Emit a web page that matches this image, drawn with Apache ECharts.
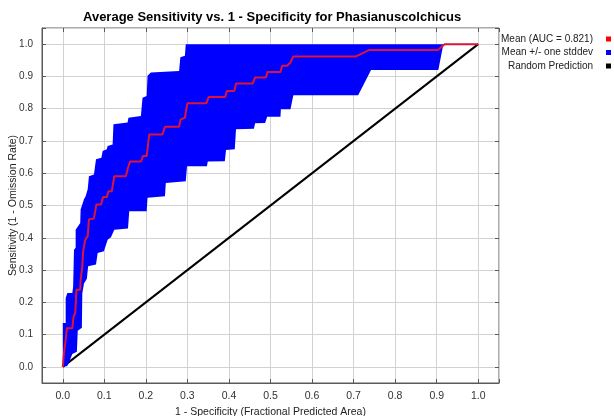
<!DOCTYPE html>
<html><head><meta charset="utf-8">
<script src="https://cdn.jsdelivr.net/npm/echarts@6/dist/echarts.min.js"></script>
<style>html,body{margin:0;padding:0;background:#fff}#c{width:614px;height:416px}</style>
</head><body><div id="c"></div>
<script>
const titleText = 'Average Sensitivity vs. 1 - Specificity for Phasianuscolchicus';
const xAxisName = '1 - Specificity (Fractional Predicted Area)';
const yAxisName = 'Sensitivity (1 - Omission Rate)';
const seriesNames = ['Mean (AUC = 0.821)', 'Mean +/- one stddev', 'Random Prediction'];

const meanCurve = [
  [0,0],[0.003,0.043],[0.007,0.084],[0.010,0.12],[0.023,0.12],[0.026,0.156],[0.030,0.167],
  [0.033,0.239],[0.042,0.239],[0.043,0.27],[0.047,0.311],[0.049,0.358],[0.054,0.394],
  [0.060,0.405],[0.063,0.457],[0.065,0.46],[0.075,0.46],[0.081,0.503],[0.092,0.503],
  [0.097,0.526],[0.106,0.526],[0.110,0.544],[0.118,0.544],[0.124,0.591],[0.152,0.591],
  [0.157,0.617],[0.162,0.636],[0.188,0.636],[0.193,0.653],[0.202,0.653],[0.208,0.720],
  [0.240,0.720],[0.246,0.744],[0.280,0.744],[0.284,0.767],[0.294,0.772],[0.300,0.817],
  [0.346,0.817],[0.351,0.836],[0.391,0.836],[0.395,0.855],[0.413,0.855],[0.417,0.878],
  [0.457,0.878],[0.463,0.897],[0.489,0.897],[0.493,0.914],[0.524,0.914],[0.528,0.933],
  [0.540,0.933],[0.548,0.943],[0.555,0.962],[0.706,0.962],[0.738,0.982],[0.903,0.982],
  [0.919,1.0],[1.0,1.0]
];

const upperBand = [
  [0,0],[0,0.136],[0.007,0.136],[0.007,0.213],[0.011,0.229],[0.023,0.229],[0.025,0.249],
  [0.027,0.363],[0.031,0.369],[0.031,0.425],[0.042,0.446],[0.043,0.488],[0.047,0.503],
  [0.051,0.519],[0.055,0.529],[0.060,0.550],[0.063,0.591],[0.075,0.596],[0.080,0.643],
  [0.093,0.648],[0.096,0.669],[0.106,0.674],[0.108,0.684],[0.120,0.689],[0.122,0.752],
  [0.156,0.757],[0.158,0.772],[0.188,0.777],[0.192,0.834],[0.202,0.839],[0.204,0.902],
  [0.212,0.912],[0.280,0.917],[0.283,0.959],[0.294,0.964],[0.296,1.0],[0.916,1.0]
];

const lowerBand = [
  [0.916,1.0],[0.904,0.920],[0.742,0.920],[0.711,0.842],[0.555,0.842],[0.548,0.798],
  [0.525,0.798],[0.524,0.775],[0.492,0.775],[0.487,0.756],[0.463,0.755],[0.460,0.738],
  [0.417,0.736],[0.414,0.674],[0.393,0.672],[0.390,0.637],[0.349,0.636],[0.347,0.622],
  [0.299,0.622],[0.296,0.575],[0.248,0.570],[0.246,0.529],[0.204,0.524],[0.202,0.482],
  [0.160,0.482],[0.157,0.429],[0.124,0.425],[0.116,0.402],[0.108,0.394],[0.099,0.358],
  [0.084,0.353],[0.080,0.317],[0.061,0.312],[0.058,0.273],[0.051,0.258],[0.047,0.227],
  [0.046,0.121],[0.036,0.112],[0.034,0.047],[0.023,0.040],[0.019,0.027],[0.011,0.003],[0,0]
];

const randomLine = [[0,0],[1,1]];

const FONT = 'Liberation Sans';
const chart = echarts.init(document.getElementById('c'), null, {renderer: 'canvas'});

function fmt(v) {
  const t = v * 10;
  if (Math.abs(t - Math.round(t)) > 1e-6) return '';
  return (Math.round(t) / 10).toFixed(1);
}

const axisCommon = {
  type: 'value', min: -0.05, max: 1.05, splitNumber: 10
};

function legendFor(name, top) {
  return {
    data: [{name: name, icon: 'rect'}],
    right: 3, top: top, padding: 0,
    orient: 'vertical', align: 'right',
    itemWidth: 5, itemHeight: 5,
    selectedMode: false,
    textStyle: {fontFamily: FONT, fontSize: 10, color: '#222', padding: [0, 8, 0, 0]}
  };
}

const tickStyle = {show: true, inside: true, length: 4, lineStyle: {color: '#5a5a5a'}};

chart.setOption({
  animation: false,
  backgroundColor: '#fff',
  title: {
    text: titleText, left: 83, top: 11, padding: 0,
    textStyle: {fontFamily: FONT, fontSize: 13, fontWeight: 'bold', color: '#000'}
  },
  legend: [
    legendFor(seriesNames[0], 34),
    legendFor(seriesNames[1], 47.5),
    legendFor(seriesNames[2], 61)
  ],
  grid: {
    left: 42, right: 115, top: 28, bottom: 33,
    show: true, borderColor: '#5a5a5a', borderWidth: 1, backgroundColor: 'transparent',
    containLabel: false, outerBoundsMode: 'none'
  },
  xAxis: [
    Object.assign({}, axisCommon, {
      position: 'bottom',
      name: xAxisName, nameLocation: 'middle', nameGap: 21,
      nameTextStyle: {fontFamily: FONT, fontSize: 10.5, color: '#222'},
      axisLine: {show: true, onZero: false, lineStyle: {color: '#5a5a5a', width: 1}},
      axisTick: tickStyle,
      axisLabel: {formatter: fmt, margin: 8, fontFamily: FONT, fontSize: 10.5, color: '#333'},
      splitLine: {show: true, lineStyle: {color: '#d2d2d2', width: 1}}
    }),
    Object.assign({}, axisCommon, {
      position: 'top',
      axisLine: {show: false, onZero: false},
      axisTick: tickStyle,
      axisLabel: {show: false},
      splitLine: {show: false}
    })
  ],
  yAxis: [
    Object.assign({}, axisCommon, {
      position: 'left',
      name: yAxisName, nameLocation: 'middle', nameGap: 23, nameMoveOverlap: false,
      nameTextStyle: {fontFamily: FONT, fontSize: 10.5, color: '#222'},
      axisLine: {show: true, onZero: false, lineStyle: {color: '#5a5a5a', width: 1}},
      axisTick: tickStyle,
      axisLabel: {formatter: fmt, margin: 9, fontFamily: FONT, fontSize: 10, color: '#333'},
      splitLine: {show: true, lineStyle: {color: '#d2d2d2', width: 1}}
    }),
    Object.assign({}, axisCommon, {
      position: 'right',
      axisLine: {show: false, onZero: false},
      axisTick: tickStyle,
      axisLabel: {show: false},
      splitLine: {show: false}
    })
  ],
  series: [
    {
      name: seriesNames[2], type: 'line', data: randomLine, z: 2,
      symbol: 'none', lineStyle: {color: '#000', width: 2}, itemStyle: {color: '#000'}
    },
    {
      name: seriesNames[1], type: 'custom', z: 3,
      data: [[0, 0]],
      itemStyle: {color: '#0000ff'},
      renderItem: function (params, api) {
        const pts = upperBand.concat(lowerBand).map(function (p) { return api.coord(p); });
        return {type: 'polygon', shape: {points: pts}, style: {fill: '#0000ff', stroke: null}};
      }
    },
    {
      name: seriesNames[0], type: 'line', data: meanCurve, z: 4,
      symbol: 'none', lineStyle: {color: '#dc1438', width: 2}, itemStyle: {color: '#ff0000'}
    }
  ]
});
</script></body></html>
